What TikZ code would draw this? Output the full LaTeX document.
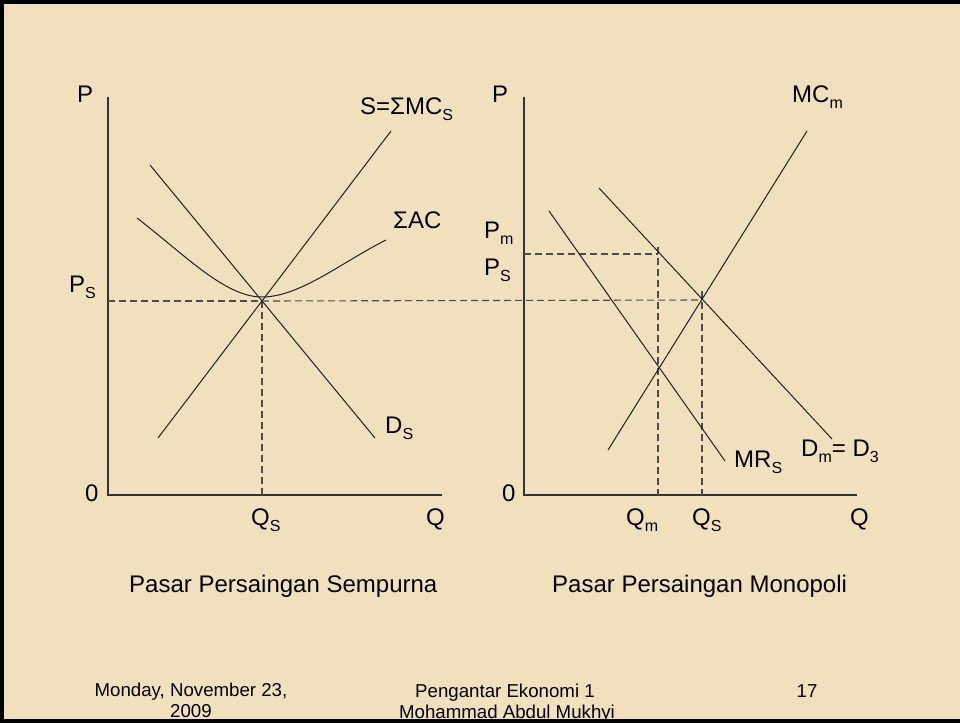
\documentclass[tikz,border=0pt]{standalone}
\usepackage{fontspec}
\setmainfont{Liberation Sans}
\usepackage{tikz}
\usetikzlibrary{positioning,calc}
\definecolor{paper}{HTML}{F0E0BE}
\definecolor{inkline}{HTML}{202020}
\newcommand{\sbs}[1]{\raisebox{-6pt}{\fontsize{16}{16}\selectfont #1}}

\begin{document}
\begin{tikzpicture}[x=1pt, y=-1pt,
  lbl/.style={anchor=base west, inner sep=0pt, font=\fontsize{24}{28}\selectfont},
  foot/.style={anchor=base, inner sep=0pt, font=\fontsize{18.67}{21}\selectfont},
  axis/.style={line width=1.3pt, black!80},
  curve/.style={line width=1pt, inkline},
  guide/.style={line width=1.1pt, black!70, dash pattern=on 7pt off 4pt}
]
  \useasboundingbox (0,0) rectangle (960,723);
  \fill[paper] (0,0) rectangle (960,723);

  % left panel: perfect competition
  \coordinate (o1) at (108,495);
  \coordinate (ytop1) at (108,97);
  \coordinate (xend1) at (442,495);
  \coordinate (sLo) at (158,438);
  \coordinate (sHi) at (391,131);
  \coordinate (dHi) at (150,165);
  \coordinate (dLo) at (375,438);
  \coordinate (eq1) at (262,301);
  \coordinate (ps1) at (108,301);
  \coordinate (qs1) at (262,495);
  \coordinate (acL) at (137,218);
  \coordinate (acMin) at (262,297);
  \coordinate (acR) at (386,240);

  \draw[axis] (ytop1) -- (o1) -- (xend1);
  \draw[guide] (ps1) -- (eq1);
  \draw[guide] (eq1) -- (qs1);
  \draw[curve] (sLo) -- (sHi);
  \draw[curve] (dHi) -- (dLo);
  \draw[curve] (acL) .. controls (185,255) and (225,297) .. (acMin)
               .. controls (300,297) and (342,262) .. (acR);

  \node[lbl] (p1) at (77,102) {P};
  \node[lbl] (psl1) at (69,292) {P\sbs{S}};
  \node[lbl] (zero1) at (85,501) {0};
  \node[lbl] (qsl1) at (251,525) {Q\sbs{S}};
  \node[lbl] (q1) at (426,525) {Q};
  \node[lbl] (sl) at (360,114) {S=ΣMC\sbs{S}};
  \node[lbl] (acl) at (393,228) {ΣAC};
  \node[lbl] (dl) at (385,433) {D\sbs{S}};
  \node[lbl] (title1) at (129,592) {Pasar Persaingan Sempurna};

  % right panel: monopoly
  \coordinate (o2) at (524,495);
  \coordinate (ytop2) at (524,97);
  \coordinate (xend2) at (857,495);
  \coordinate (mcLo) at (608,450);
  \coordinate (mcHi) at (807,131);
  \coordinate (dmHi) at (599,188);
  \coordinate (dmLo) at (832,439);
  \coordinate (mrHi) at (549,211);
  \coordinate (mrLo) at (725,461);
  \coordinate (eq2) at (702,300);
  \coordinate (eq2top) at (702,291);
  \coordinate (qs2) at (702,495);
  \coordinate (pm) at (524,254);
  \coordinate (mon) at (658,254);
  \coordinate (montop) at (658,247);
  \coordinate (qm) at (658,495);

  \draw[axis] (ytop2) -- (o2) -- (xend2);
  \draw[guide] (eq1) -- (eq2);
  \draw[guide] (pm) -- (mon);
  \draw[guide] (montop) -- (qm);
  \draw[guide] (eq2top) -- (qs2);
  \draw[curve] (mcLo) -- (mcHi);
  \draw[curve] (dmHi) -- (dmLo);
  \draw[curve] (mrHi) -- (mrLo);

  \node[lbl] (p2) at (492,102) {P};
  \node[lbl] (pml) at (484,238) {P\sbs{m}};
  \node[lbl] (psl2) at (484,275) {P\sbs{S}};
  \node[lbl] (zero2) at (502,501) {0};
  \node[lbl] (qml) at (626,525) {Q\sbs{m}};
  \node[lbl] (qsl2) at (692,525) {Q\sbs{S}};
  \node[lbl] (q2) at (850,525) {Q};
  \node[lbl] (mcl) at (792,102) {MC\sbs{m}};
  \node[lbl] (mrl) at (734,467) {MR\sbs{S}};
  \node[lbl] (dml) at (801,456) {D\sbs{m}= D\sbs{3}};
  \node[lbl] (title2) at (552,592) {Pasar Persaingan Monopoli};

  % footer
  \node[foot] (date) at (191,696) {Monday, November 23,};
  \node[foot] (year) at (191,717) {2009};
  \node[foot] (course) at (505,697) {Pengantar Ekonomi 1};
  \node[foot] (author) at (507,718) {Mohammad Abdul Mukhyi};
  \node[foot] (page) at (807,697) {17};

  % frame
  \draw[line width=4pt, black] (960,2) -- (2,2) -- (2,721) -- (960,721);
\end{tikzpicture}
\end{document}
